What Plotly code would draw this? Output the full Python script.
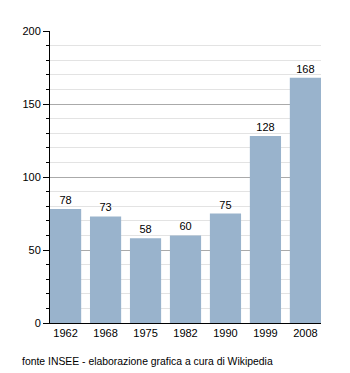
import plotly.graph_objects as go

years = ["1962", "1968", "1975", "1982", "1990", "1999", "2008"]
values = [78, 73, 58, 60, 75, 128, 168]
ytick_vals = [0, 50, 100, 150, 200]
footnote = "fonte INSEE - elaborazione grafica a cura di Wikipedia"

font_family = "Liberation Sans, Arial, sans-serif"
xpos = list(range(len(years)))

fig = go.Figure(go.Bar(
    x=xpos, y=values, width=0.78,
    marker=dict(color="#99b3cc", line=dict(width=0)),
    text=[str(v) for v in values], textposition="outside",
    textfont=dict(size=11, color="black", family=font_family),
    cliponaxis=False,
))

fig.update_layout(
    width=350, height=373,
    margin=dict(l=50, r=29, t=31, b=50),
    plot_bgcolor="white", paper_bgcolor="white",
    showlegend=False,
    font=dict(family=font_family, size=11, color="black"),
    xaxis=dict(
        range=[-0.39, 6.39], tickvals=xpos, ticktext=years,
        showgrid=False, zeroline=False, showline=True, linecolor="black", linewidth=1,
        ticks="", tickfont=dict(size=11),
    ),
    yaxis=dict(
        range=[0, 200], tickvals=ytick_vals,
        showgrid=True, gridcolor="#aaaaaa", gridwidth=1,
        zeroline=False, showline=True, linecolor="black", linewidth=1,
        ticks="outside", ticklen=6, tickcolor="black", tickwidth=1,
        tickfont=dict(size=11),
        minor=dict(dtick=10, showgrid=True, gridcolor="#e3e3e3", gridwidth=1,
                   ticks="outside", ticklen=3, tickcolor="black"),
    ),
    annotations=[dict(
        text=footnote, xref="paper", yref="paper", x=-0.11, y=-0.133,
        xanchor="left", yanchor="middle", showarrow=False,
        font=dict(size=10.4, color="black", family=font_family),
    )],
)

fig.write_html("out.html")
